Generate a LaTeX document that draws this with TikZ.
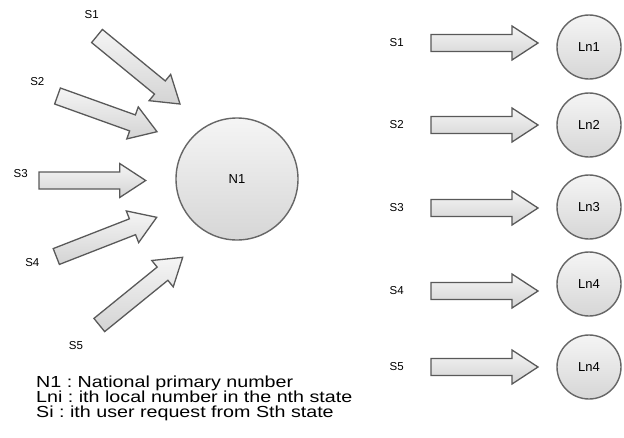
\documentclass[tikz,border=0pt]{standalone}
\usepackage{fontspec}
\setmainfont{Liberation Sans}
\usetikzlibrary{calc}
\frenchspacing

% block arrow from tail coordinate to tip coordinate
\newcommand{\blockarrow}[2]{%
  \coordinate (ba) at ($(#2)!26pt!(#1)$);
  \draw[arrowbox] ($(#1)!8.5pt!90:(#2)$) -- ($(ba)!8.5pt!90:(#2)$)
    -- ($(ba)!17pt!90:(#2)$) -- (#2) -- ($(ba)!17pt!-90:(#2)$)
    -- ($(ba)!8.5pt!-90:(#2)$) -- ($(#1)!8.5pt!-90:(#2)$) -- cycle;
}

\begin{document}
\begin{tikzpicture}[x=1pt, y=-1pt,
		num/.style={circle, draw=black!60, line width=1.4pt, top color=black!4, bottom color=black!16, inner sep=0pt, font=\fontsize{13}{15}\selectfont},
		lab/.style={font=\fontsize{11.5}{13}\selectfont},
		arrowbox/.style={draw=black!65, line width=1.3pt, line join=miter, top color=black!4, bottom color=black!17},
		legend/.style={anchor=base west, inner sep=0pt, font=\fontsize{16}{15}\selectfont}
		]
	\useasboundingbox (0,0) rectangle (624,437);

	% left side: all requests to one number
	\node [num, minimum size=122pt] (n1) at (237,179) {N1};
	\node [lab] (s1) at (91.7,14.3) {S1};
	\node [lab] (s2) at (37.3,81.7) {S2};
	\node [lab] (s3) at (20.7,174) {S3};
	\node [lab] (s4) at (32.3,262.7) {S4};
	\node [lab] (s5) at (76,345.7) {S5};
	\coordinate (t1) at (97,36);      \coordinate (h1) at (180,104);
	\coordinate (t2) at (57.5,96);    \coordinate (h2) at (157,131.7);
	\coordinate (t3) at (39,180.5);   \coordinate (h3) at (145.7,180.5);
	\coordinate (t4) at (56.3,256.5); \coordinate (h4) at (156.7,217.3);
	\coordinate (t5) at (99.3,325);   \coordinate (h5) at (182.7,257.3);
	\foreach \k in {1,...,5} {
		\blockarrow{t\k}{h\k}
	}

	% right side: one local number per state
	\foreach \k/\ay/\cy/\t in {1/43/47/Ln1, 2/125/125/Ln2, 3/208/207/Ln3, 4/291/284/Ln4, 5/367/367/Ln4} {
		\node [lab] (rs\k) at (396.7,\ay) {S\k};
		\node [num, minimum size=64pt] (ln\k) at (589,\cy) {\t};
		\coordinate (rt\k) at ($(rs\k)+(34.3,0)$);
		\coordinate (rh\k) at ($(rt\k)+(107,0)$);
		\blockarrow{rt\k}{rh\k}
	}

	% legend
	\node [legend] (l1) at (36,387) {\scalebox{1.23}[1]{N1 : National primary number}};
	\node [legend] (l2) at (36,402) {\scalebox{1.23}[1]{Lni : ith local number in the nth state}};
	\node [legend] (l3) at (36,417) {\scalebox{1.23}[1]{Si : ith user request from Sth state}};
\end{tikzpicture}
\end{document}
